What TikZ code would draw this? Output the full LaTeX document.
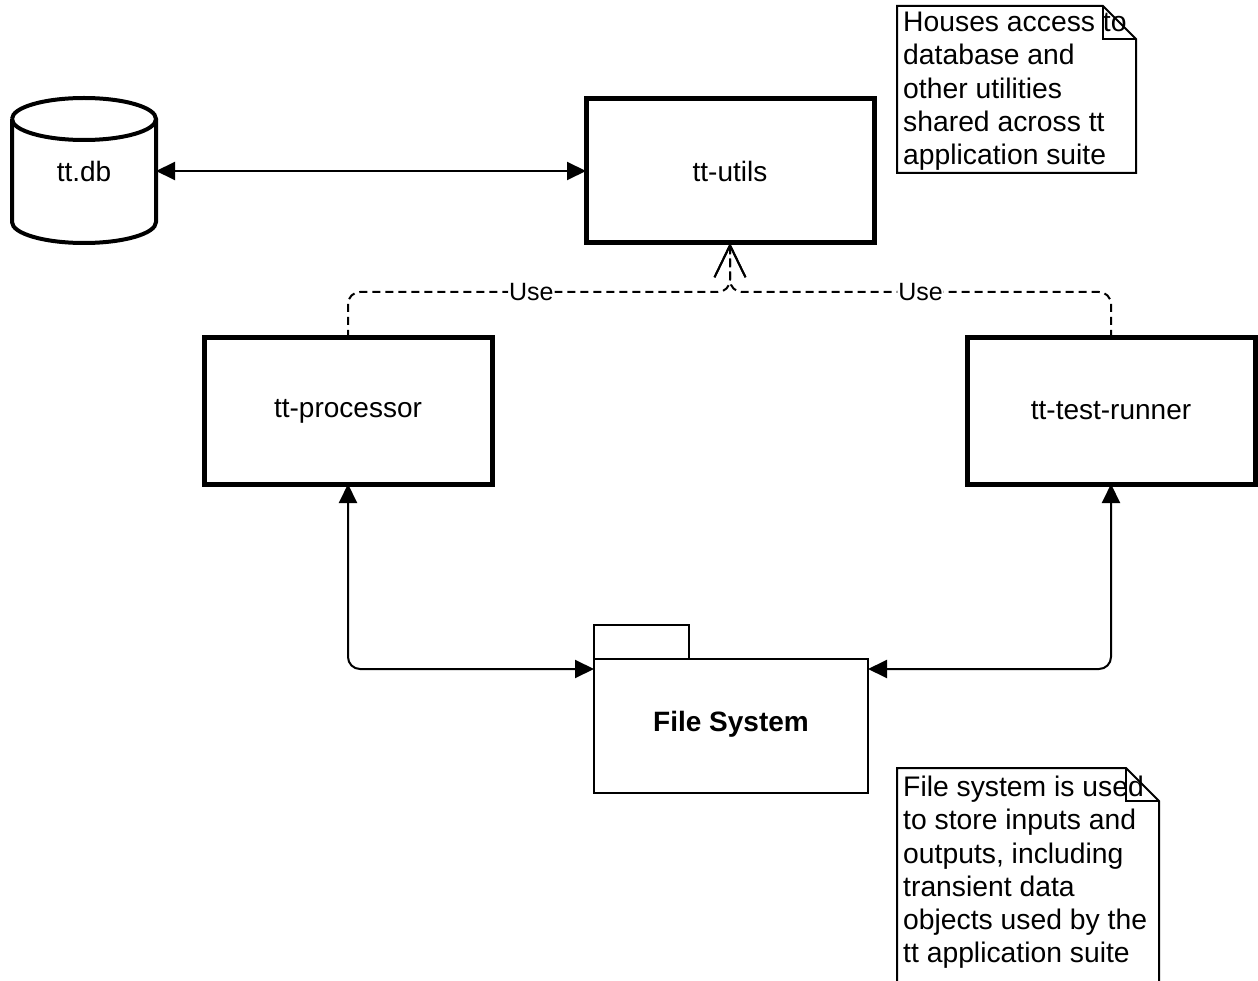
\documentclass[tikz,border=0pt]{standalone}
\usepackage{fontspec}
\setmainfont{Liberation Sans}
\usetikzlibrary{arrows.meta,calc}
\begin{document}
\begin{tikzpicture}[x=1pt,y=-1pt,
  box/.style={draw, line width=5pt, minimum width=288pt, minimum height=144pt, font=\fontsize{28}{33}\selectfont, inner sep=0pt, outer sep=0pt},
  conn/.style={line width=2pt, {Triangle[length=19pt,width=18pt]}-{Triangle[length=19pt,width=18pt]}, rounded corners=12pt},
  usedep/.style={line width=2pt, dash pattern=on 8pt off 5pt, -{Straight Barb[length=32pt,width=31pt,line width=2pt]}, rounded corners=12pt},
  uselabel/.style={fill=white, inner sep=1pt, font=\fontsize{25}{28}\selectfont},
  notetext/.style={anchor=north west, inner sep=0pt, align=left, font=\fontsize{28.3}{33.2}\selectfont},
  noteline/.style={line width=2pt, line join=miter},
  pkg/.style={draw, line width=2pt, inner sep=0pt, outer sep=0pt}
]
\useasboundingbox (0,0) rectangle (1258,981);

% database cylinder
\node[inner sep=0pt, outer sep=0pt, minimum width=144pt, minimum height=143pt, font=\fontsize{28}{33}\selectfont] (db) at (84,171) {tt.db};
\draw[line width=4pt] (12,119) arc[start angle=180, end angle=-180, x radius=72, y radius=21];
\draw[line width=4pt] (12,119) -- (12,222) arc[start angle=180, end angle=0, x radius=72, y radius=21] -- (156,119);

% main boxes
\node[box] (utils) at (730,171) {tt-utils};
\node[box, minimum height=146pt] (proc) at (348,411) {tt-processor};
\node[box, minimum height=146pt] (runner) at (1111,411) {tt-test-runner};

% package
\node[pkg, minimum width=274pt, minimum height=134pt, font=\fontsize{28}{33}\selectfont\bfseries, text height=18pt, text depth=8pt] (fs) at (731,726) {File System};
\node[pkg, minimum width=95pt, minimum height=34pt, anchor=south west] (fstab) at (fs.north west) {};

% notes
\node[notetext] (note1) at (903,12) {Houses access to\\database and\\other utilities\\shared across tt\\application suite};
\draw[noteline] (897,6) -- (1103,6) -- (1136,39) -- (1136,173) -- (897,173) -- cycle;
\draw[noteline] (1103,6) -- (1103,39) -- (1136,39);

\node[notetext] (note2) at (903,776) {File system is used\\to store inputs and\\outputs, including\\transient data\\objects used by the\\tt application suite};
\draw[noteline] (897,990) -- (897,768) -- (1126,768) -- (1159,801) -- (1159,990);
\draw[noteline] (1126,768) -- (1126,801) -- (1159,801);

% connectors
\draw[conn] (db.east) -- (utils.west);
\draw[conn] (proc.south) |- ([yshift=-10pt]fs.north west);
\draw[conn] (runner.south) |- ([yshift=-10pt]fs.north east);

\draw[usedep] (proc.north) |- (730,292) node[uselabel, pos=0.74] {Use} -- (utils.south);
\draw[usedep] (runner.north) |- (730,292) node[uselabel, pos=0.75] {Use} -- (utils.south);
\end{tikzpicture}
\end{document}
